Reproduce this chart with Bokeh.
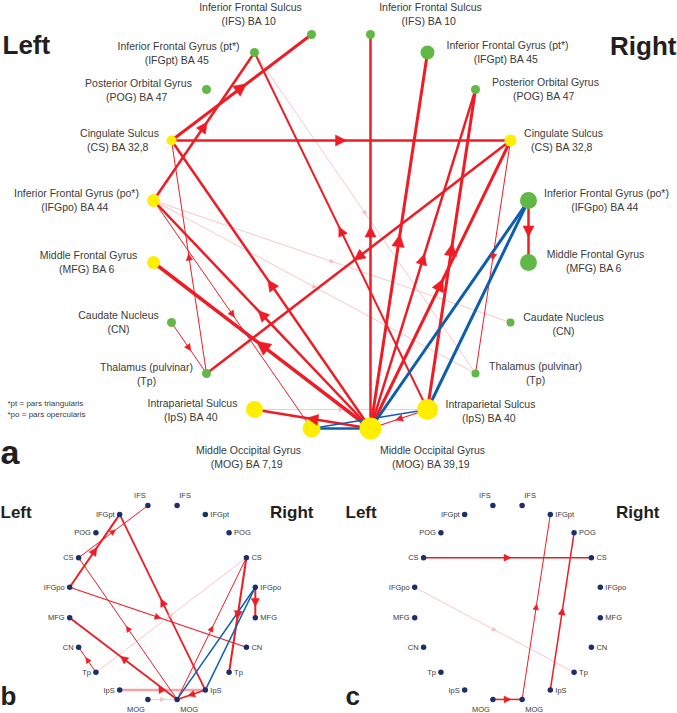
import math
from bokeh.plotting import figure
from bokeh.models import ColumnDataSource, Range1d, Arrow, NormalHead
from bokeh.core.properties import value
from bokeh.embed import file_html
from bokeh.resources import INLINE

# ---------------- data ----------------
regions = ["IFS", "IFGpt", "POG", "CS", "IFGpo", "MFG", "CN", "Tp", "IpS", "MOG"]
name_line1 = ["Inferior Frontal Sulcus", "Inferior Frontal Gyrus (pt*)", "Posterior Orbital Gyrus",
              "Cingulate Sulcus", "Inferior Frontal Gyrus (po*)", "Middle Frontal Gyrus",
              "Caudate Nucleus", "Thalamus (pulvinar)", "Intraparietal Sulcus", "Middle Occipital Gyrus"]
name_line2_left = ["(IFS)  BA 10", "(IFGpt)  BA 45", "(POG)  BA 47", "(CS)  BA 32,8", "(IFGpo)  BA 44",
                   "(MFG)  BA 6", "(CN)", "(Tp)", "(IpS)  BA 40", "(MOG)  BA 7,19"]
name_line2_right = ["(IFS)  BA 10", "(IFGpt)  BA 45", "(POG)  BA 47", "(CS)  BA 32,8", "(IFGpo)  BA 44",
                    "(MFG)  BA 6", "(CN)", "(Tp)", "(IpS)  BA 40", "(MOG)  BA 39,19"]
# node strength (panel a marker diameter) and node class (y = yellow, g = green)
strength_left = [9, 9, 9, 10, 13, 13, 9, 9, 17, 18]
strength_right = [9, 14, 9, 12, 17, 17, 8, 8, 21, 22]
class_left = ["g", "g", "g", "y", "y", "y", "g", "g", "y", "y"]
class_right = ["g", "g", "g", "y", "g", "g", "g", "g", "y", "y"]

# edges: source, target, weight, kind (r = red, p = pale, b = blue)
a_src = ["L_CS", "L_IFGpo", "L_CS", "R_IpS", "R_MOG", "L_Tp", "R_MOG", "R_MOG", "L_IFGpo", "L_CN",
         "R_CS", "R_MOG", "R_IpS", "R_MOG", "R_MOG", "R_MOG", "R_IpS", "R_MOG", "R_CS", "R_IFGpo",
         "L_IFGpt", "L_IFGpo", "L_IFGpo", "L_IpS",
         "L_MOG", "L_MOG", "R_MOG", "R_IpS"]
a_dst = ["L_IFS", "L_IFGpt", "R_CS", "L_IFGpt", "L_CS", "L_CS", "L_IFGpo", "L_MFG", "L_MOG", "L_Tp",
         "L_Tp", "L_IpS", "R_MOG", "R_IFS", "R_IFGpt", "R_POG", "R_POG", "R_CS", "R_Tp", "R_MFG",
         "R_Tp", "R_CN", "R_Tp", "R_IpS",
         "R_MOG", "R_IpS", "R_IFGpo", "R_IFGpo"]
a_w = [3, 2.5, 2.5, 2, 2.5, 1, 2.5, 3.5, 1, 1,
       2.5, 2.5, 1.2, 2.5, 3, 2.5, 3, 3, 1, 2.5,
       0.8, 0.8, 0.8, 0.8,
       2.5, 1.3, 3, 3]
a_kind = ["r"] * 20 + ["p"] * 4 + ["b"] * 4

b_src = ["L_CS", "L_IFGpo", "R_IpS", "R_MOG", "L_IFGpo", "R_MOG", "L_Tp", "R_IpS", "R_MOG", "R_CS",
         "R_IFGpo", "L_Tp", "L_IpS", "L_MOG", "R_MOG", "R_IpS"]
b_dst = ["L_IFS", "L_IFGpt", "L_IFGpt", "L_CS", "R_CN", "L_MFG", "L_CN", "R_MOG", "R_CS", "R_Tp",
         "R_MFG", "R_CS", "R_IpS", "R_MOG", "R_IFGpo", "R_IFGpo"]
b_w = [1, 2, 1.8, 1, 1.2, 1.8, 1, 1.5, 1, 2,
       2, 0.8, 2.5, 0.8, 1.5, 1.5]
b_kind = ["r"] * 11 + ["p"] * 3 + ["b"] * 2

c_src = ["L_CS", "R_MOG", "R_IpS", "L_MOG", "L_IFGpo"]
c_dst = ["R_CS", "R_IFGpt", "R_POG", "R_MOG", "R_Tp"]
c_w = [1.5, 1, 1.5, 1.5, 0.8]
c_kind = ["r", "r", "r", "r", "p"]

# ---------------- layout ----------------
LAY_DX = [29.5, 86.5, 134.5, 169.5, 187.5, 187.5, 169.5, 134.5, 86.5, 29.5]
LAY_DY = [-197, -179, -142, -91, -31, 31, 91, 142, 178, 197]
LAB_A_LEFT = [(-61, -28), (-76, -7), (-68, -7), (-52, -8), (-77, -8), (-65, -8), (-53, -8), (-60, -7), (-62, -7), (-63, 21)]
LAB_A_RIGHT = [(60, -28), (80, -8), (70, -8), (53, -8), (78, -8), (67, -9), (53, -6), (60, -8), (63, -6), (62, 21)]

RED = "#EE1C25"
PALE = "#F8B9BB"
BLUE = "#0D5FAE"
YEL = "#FFEE00"
GRN = "#62B847"
NAVY = "#1C2F6B"
TXT = "#3A3A3A"
DARK = "#231F20"
FONT = "Liberation Sans"

p = figure(width=677, height=713, x_range=Range1d(0, 677), y_range=Range1d(713, 0),
           output_backend="svg", toolbar_location=None, min_border=0,
           x_axis_location=None, y_axis_location=None)
p.grid.visible = False
p.outline_line_color = None
p.background_fill_color = "white"


def positions(cx, cy, sx, sy):
    pos = {}
    for i, r in enumerate(regions):
        pos["L_" + r] = (cx - LAY_DX[i] * sx, cy + LAY_DY[i] * sy)
        pos["R_" + r] = (cx + LAY_DX[i] * sx, cy + LAY_DY[i] * sy)
    return pos


def draw_edges(pos, src, dst, w, kind, head_k, head_c):
    order = {"p": 0, "r": 1, "b": 2}
    idx = sorted(range(len(src)), key=lambda i: order[kind[i]])
    colors = {"r": RED, "p": PALE, "b": BLUE}
    xs0, ys0, xs1, ys1, cs, ws = [], [], [], [], [], []
    for i in idx:
        x0, y0 = pos[src[i]]
        x1, y1 = pos[dst[i]]
        col = colors[kind[i]]
        if kind[i] == "p" and w[i] > 2:
            col = "#F4A3A5"
        xs0.append(x0); ys0.append(y0); xs1.append(x1); ys1.append(y1)
        cs.append(col); ws.append(w[i])
    src_cds = ColumnDataSource(dict(x0=xs0, y0=ys0, x1=xs1, y1=ys1, c=cs, w=ws))
    p.segment("x0", "y0", "x1", "y1", source=src_cds, line_color="c", line_width="w")
    for i in idx:
        if kind[i] == "b":
            continue
        x0, y0 = pos[src[i]]
        x1, y1 = pos[dst[i]]
        L = math.hypot(x1 - x0, y1 - y0)
        ux, uy = (x1 - x0) / L, (y1 - y0) / L
        mx, my = (x0 + x1) / 2, (y0 + y1) / 2
        if kind[i] == "p":
            s = 4 if w[i] < 2 else 7
            col = PALE if w[i] < 2 else RED
        else:
            s = head_k * w[i] + head_c
            col = RED
        p.add_layout(Arrow(end=NormalHead(size=s, fill_color=col, line_color=col, line_width=0.5),
                           x_start=mx - ux * s, y_start=my - uy * s,
                           x_end=mx + ux * s * 0.5, y_end=my + uy * s * 0.5,
                           line_alpha=0, line_width=0.1))


def text(x, y, t, size, align="center", bold=False, color=TXT):
    src = ColumnDataSource(dict(x=x, y=y, t=t))
    p.text("x", "y", text="t", source=src, text_font=value(FONT), text_font_size=size,
           text_align=align, text_baseline="middle", text_color=color,
           text_font_style="bold" if bold else "normal")


# ---------------- panel a ----------------
pos_a = positions(340.5, 231, 1.0, 1.0)
draw_edges(pos_a, a_src, a_dst, a_w, a_kind, 3.0, 3.5)

nx, ny, ns, nc = [], [], [], []
for i, r in enumerate(regions):
    for side, sz, cl in (("L_", strength_left, class_left), ("R_", strength_right, class_right)):
        x, y = pos_a[side + r]
        nx.append(x); ny.append(y); ns.append(sz[i]); nc.append(YEL if cl[i] == "y" else GRN)
p.scatter(x=nx, y=ny, size=ns, fill_color=nc, line_color=None)

lx, ly, lt = [], [], []
for i, r in enumerate(regions):
    for side, offs, l2 in (("L_", LAB_A_LEFT, name_line2_left), ("R_", LAB_A_RIGHT, name_line2_right)):
        x, y = pos_a[side + r]
        dx, dy = offs[i]
        lx += [x + dx, x + dx]; ly += [y + dy, y + dy + 14]; lt += [name_line1[i], l2[i]]
text(lx, ly, lt, "10.5px")

text([2], [44], ["Left"], "26px", align="left", bold=True, color=DARK)
text([676], [45], ["Right"], "26px", align="right", bold=True, color=DARK)
text([0], [451], ["a"], "34px", align="left", bold=True, color=DARK)
text([7, 7], [403, 414], ["*pt = pars triangularis", "*po = pars opercularis"], "8px", align="left")


# ---------------- panels b and c ----------------
def small_panel(cx, cy, src, dst, w, kind, left_x, right_x, letter, letter_x):
    pos = positions(cx, cy, 0.495, 0.492)
    draw_edges(pos, src, dst, w, kind, 2.6, 3.0)
    xs = [pos[k][0] for k in pos]
    ys = [pos[k][1] for k in pos]
    p.scatter(x=xs, y=ys, size=5.5, fill_color=NAVY, line_color=None)
    lxl, lyl, ltl = [], [], []
    lxr, lyr, ltr = [], [], []
    lxc, lyc, ltc = [], [], []
    for r in regions:
        xl, yl = pos["L_" + r]
        xr, yr = pos["R_" + r]
        if r == "IFS":
            lxc += [xl - 8, xr + 8]; lyc += [yl - 10, yr - 10]; ltc += [r, r]
        elif r == "MOG":
            lxc += [xl - 12, xr + 12]; lyc += [yl + 10, yr + 10]; ltc += [r, r]
        else:
            lxl.append(xl - 5); lyl.append(yl); ltl.append(r)
            lxr.append(xr + 5); lyr.append(yr); ltr.append(r)
    text(lxl, lyl, ltl, "7.5px", align="right")
    text(lxr, lyr, ltr, "7.5px", align="left")
    text(lxc, lyc, ltc, "7.5px", align="center")
    text([left_x], [512], ["Left"], "17px", align="left", bold=True, color=DARK)
    text([right_x], [512], ["Right"], "17px", align="right", bold=True, color=DARK)
    text([letter_x], [695], [letter], "26px", align="left", bold=True, color=DARK)


small_panel(162, 602, b_src, b_dst, b_w, b_kind, 0, 313, "b", 0)
small_panel(507, 602, c_src, c_dst, c_w, c_kind, 345, 659, "c", 345)

open("out.html", "w").write(file_html(p, INLINE))
